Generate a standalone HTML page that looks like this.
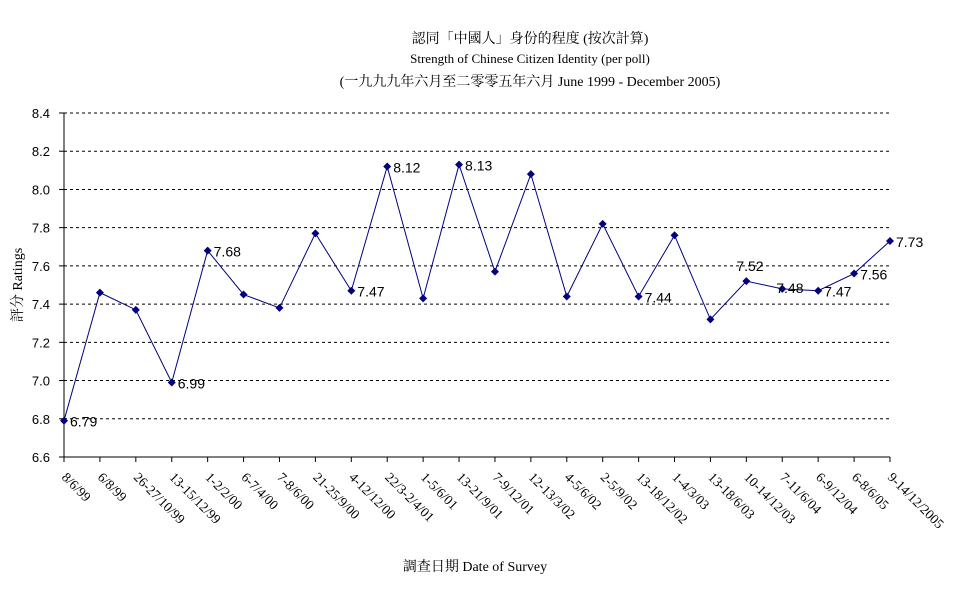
<!DOCTYPE html>
<html><head><meta charset="utf-8"><style>
body{margin:0;background:#fff;}
svg text{font-family:"Liberation Sans","Noto Sans CJK TC",sans-serif;}
.serif{font-family:"Liberation Serif","Noto Serif CJK SC",serif !important;}
</style></head><body>
<svg id="chart" width="974" height="599" viewBox="0 0 974 599" xmlns="http://www.w3.org/2000/svg">
<text class="serif" x="530" y="43" text-anchor="middle" font-size="14">認同「中國人」身份的程度 (按次計算)</text>
<text class="serif" x="530" y="63" text-anchor="middle" font-size="13">Strength of Chinese Citizen Identity (per poll)</text>
<text class="serif" x="530" y="86" text-anchor="middle" font-size="14">(一九九九年六月至二零零五年六月 June 1999 - December 2005)</text>
<text class="serif" x="22" y="285" text-anchor="middle" font-size="14" transform="rotate(-90 22 285)">評分 Ratings</text>
<text class="serif" x="475" y="571" text-anchor="middle" font-size="14">調查日期 Date of Survey</text>
<g id="grid"></g><g id="axes"></g><g id="series"></g><g id="labels"></g>
</svg>
<script>
const categories=["8/6/99","6/8/99","26-27/10/99","13-15/12/99","1-2/2/00","6-7/4/00","7-8/6/00","21-25/9/00","4-12/12/00","22/3-2/4/01","1-5/6/01","13-21/9/01","7-9/12/01","12-13/3/02","4-5/6/02","2-5/9/02","13-18/12/02","1-4/3/03","13-18/6/03","10-14/12/03","7-11/6/04","6-9/12/04","6-8/6/05","9-14/12/2005"];
const values=[6.79,7.46,7.37,6.99,7.68,7.45,7.38,7.77,7.47,8.12,7.43,8.13,7.57,8.08,7.44,7.82,7.44,7.76,7.32,7.52,7.48,7.47,7.56,7.73];
const yTicks=[6.6,6.8,7.0,7.2,7.4,7.6,7.8,8.0,8.2,8.4];
const labeledIdx=[0,3,4,8,9,11,16,19,20,21,22,23];
const NS="http://www.w3.org/2000/svg";
const X0=64,X1=890,Y0=457,Y1=113,ymin=6.6,ymax=8.4;
const xs=i=>X0+(X1-X0)*i/(categories.length-1);
const ys=v=>Y0-(v-ymin)/(ymax-ymin)*(Y0-Y1);
function mk(t,a,p){const e=document.createElementNS(NS,t);for(const k in a)e.setAttribute(k,a[k]);p.appendChild(e);return e;}
const grid=document.getElementById('grid'),axes=document.getElementById('axes'),series=document.getElementById('series'),labels=document.getElementById('labels');
yTicks.forEach(v=>{
  if(v>ymin){const g=mk('line',{x1:X0,x2:X1,y1:ys(v),y2:ys(v),stroke:'#000','stroke-dasharray':'3,3','stroke-width':1},grid);
  
  }
  const t=mk('text',{x:X0-14,y:ys(v)+5,'text-anchor':'end','font-size':13},axes);t.textContent=v.toFixed(1);
  
  
  mk('line',{x1:X0-5,x2:X0,y1:ys(v),y2:ys(v),stroke:'#000'},axes);
});
const ya=mk('line',{x1:X0,x2:X0,y1:Y1,y2:Y0,stroke:'#000'},axes);


const xa=mk('line',{x1:X0,x2:X1,y1:Y0,y2:Y0,stroke:'#000'},axes);


categories.forEach((c,i)=>{
  const x=xs(i);
  mk('line',{x1:x,x2:x,y1:Y0,y2:Y0+5,stroke:'#000'},axes);
  const t=mk('text',{x:x-3,y:Y0+21,'font-size':13.5,transform:`rotate(45 ${x-3} ${Y0+21})`},axes);t.textContent=c;
  t.classList.add('serif');
  
  
});
const pl=mk('polyline',{points:values.map((v,i)=>xs(i)+','+ys(v)).join(' '),fill:'none',stroke:'#000080','stroke-width':1},series);


values.forEach((v,i)=>{
  const x=xs(i),y=ys(v);
  const p=mk('polygon',{points:`${x},${y-4} ${x+4},${y} ${x},${y+4} ${x-4},${y}`,fill:'#000080'},series);
  
  
});
labeledIdx.forEach(i=>{
  let dx=6,dy=6;
  if(i===19){dx=-10;dy=-10;}
  if(i===20){dx=-6;dy=4;}
  const t=mk('text',{x:xs(i)+dx,y:ys(values[i])+dy,'font-size':14},labels);t.textContent=values[i].toFixed(2);
  
  
});
</script>
</body></html>
